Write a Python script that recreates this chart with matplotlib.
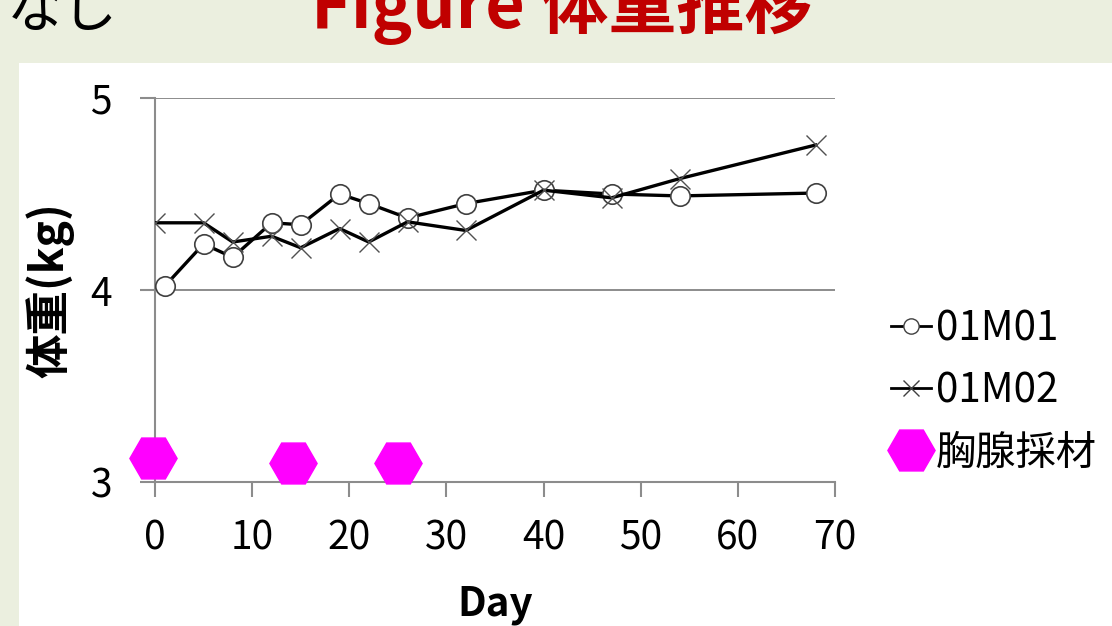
import matplotlib
matplotlib.use("Agg")
import matplotlib.pyplot as plt
from matplotlib.patches import Rectangle
from matplotlib.lines import Line2D

plt.rcParams['font.family'] = ['Noto Sans CJK JP', 'DejaVu Sans']

# Data
days_m01 = [1, 5, 8, 12, 15, 19, 22, 26, 32, 40, 47, 54, 68]
weight_m01 = [4.02, 4.24, 4.17, 4.35, 4.34, 4.50, 4.45, 4.375, 4.45, 4.52, 4.50, 4.49, 4.505]

days_m02 = [0, 5, 8, 12, 15, 19, 22, 26, 32, 40, 47, 54, 68]
weight_m02 = [4.35, 4.35, 4.25, 4.28, 4.22, 4.32, 4.25, 4.355, 4.31, 4.52, 4.48, 4.58, 4.755]

# thymus sampling days (drawn near the bottom of the axis)
sample_days = [-0.2, 14.2, 25]
sample_y = [3.125, 3.10, 3.10]

labels = ["01M01", "01M02", "胸腺採材"]
x_ticks = [0, 10, 20, 30, 40, 50, 60, 70]
y_ticks = [3, 4, 5]

W, H = 1112, 626
fig = plt.figure(figsize=(W / 100, H / 100), dpi=100, facecolor='#EBEFDF')
fig.add_artist(Rectangle((19 / W, 0), 1, 1 - 63 / H, transform=fig.transFigure,
                         facecolor='white', edgecolor='none', zorder=0))

# slide header text (cut off at the top)
fig.text(562 / W, 1 - 28 / H, "Figure 体重推移", color='#C00000', fontsize=49,
         fontweight='bold', ha='center', va='baseline')
fig.text(118 / W, 1 - 27 / H, "なし", color='black', fontsize=40,
         ha='right', va='baseline')

ax = fig.add_axes([155 / W, 1 - 482 / H, 680 / W, 384 / H])
ax.set_xlim(0, 70)
ax.set_ylim(3, 5)

gray = '#8C8C8C'
ax.set_yticks(y_ticks)
ax.set_xticks(x_ticks)
ax.grid(axis='y', color=gray, lw=1.4)
ax.set_axisbelow(True)
for s in ['top', 'right']:
    ax.spines[s].set_visible(False)
for s in ['left', 'bottom']:
    ax.spines[s].set_color(gray)
    ax.spines[s].set_linewidth(1.5)
ax.tick_params(axis='both', colors=gray, width=1.5, length=11, labelsize=28,
               labelcolor='black')
ax.tick_params(axis='x', pad=15)
ax.tick_params(axis='y', pad=20)

ax.plot(days_m01, weight_m01, color='black', lw=2.4, marker='o', ms=14,
        mfc='white', mec='#404040', mew=1.2, zorder=3)
ax.plot(days_m02, weight_m02, color='black', lw=2.4, marker='x', ms=15,
        mec='#505050', mew=1.0, zorder=4)
ax.plot(sample_days, sample_y, ls='none', marker='H', ms=34, color='#FF00FF',
        clip_on=False, zorder=5)

ax.set_xlabel("Day", fontsize=29, fontweight='bold')
ax.xaxis.set_label_coords(0.5, -0.265)
ax.set_ylabel("体重(kg)", fontsize=32, fontweight='bold')
ax.yaxis.set_label_coords(-0.118, 0.5)

handles = [
    Line2D([], [], color='black', lw=2, marker='o', ms=11, mfc='white', mec='#404040'),
    Line2D([], [], color='black', lw=2, marker='x', ms=12, mec='#404040'),
    Line2D([], [], ls='none', marker='H', ms=34, color='#FF00FF'),
]
fig.legend(handles, labels, loc='center left', bbox_to_anchor=(891 / W, 1 - 391 / H),
           frameon=False, fontsize=29, handlelength=1.0, handletextpad=0.12,
           labelspacing=0.52, borderpad=0, borderaxespad=0)

fig.savefig("out.png", dpi=100, facecolor=fig.get_facecolor())
